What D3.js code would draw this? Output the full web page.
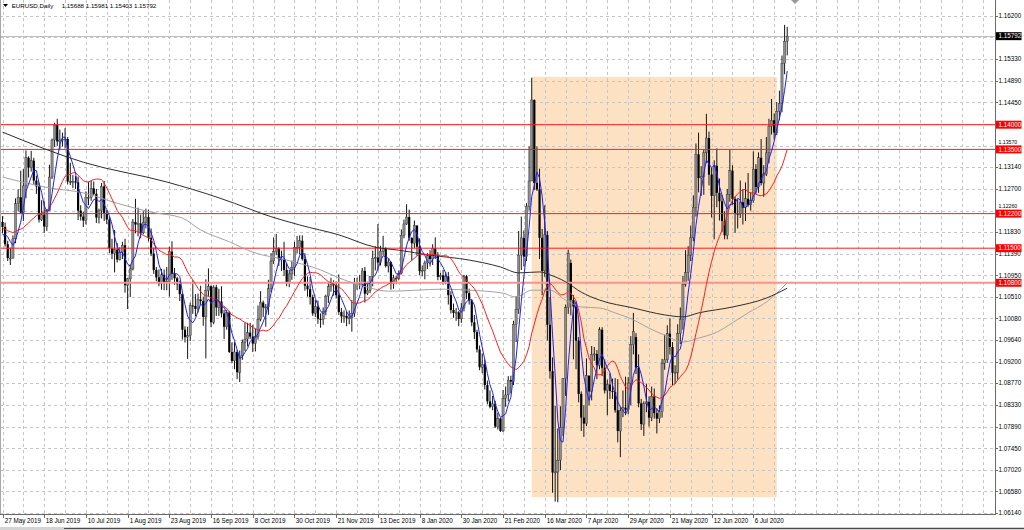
<!DOCTYPE html>
<html><head><meta charset="utf-8">
<script src="https://cdn.jsdelivr.net/npm/d3@7"></script>
<style>
html,body{margin:0;padding:0;background:#fff;}
svg{display:block;font-family:"Liberation Sans",Arial,sans-serif;}
</style></head><body>
<svg id="chart" width="1024" height="530"></svg>
<script>
// ---------------- DATA ----------------
const symbolTitle = "EURUSD,Daily";
const headerValues = ["1.15688", "1.15981", "1.15403", "1.15792"];

const opens = [
1.1203,1.1193,1.1158,1.1130,1.1130,1.1169,1.1240,1.1253,1.1222,1.1276,
1.1333,1.1313,1.1327,1.1287,1.1275,1.1208,1.1218,1.1194,1.1226,1.1294,
1.1369,1.1399,1.1366,1.1369,1.1370,1.1371,1.1285,1.1285,1.1285,1.1283,
1.1226,1.1214,1.1206,1.1253,1.1253,1.1271,1.1260,1.1212,1.1226,1.1275,
1.1220,1.1208,1.1150,1.1139,1.1147,1.1127,1.1142,1.1156,1.1075,1.1088,
1.1108,1.1203,1.1198,1.1200,1.1181,1.1202,1.1213,1.1171,1.1139,1.1106,
1.1091,1.1078,1.1096,1.1081,1.1082,1.1143,1.1098,1.1089,1.1077,1.1057,
1.0985,1.0970,1.0973,1.1034,1.1033,1.1027,1.1046,1.1043,1.1011,1.1064,
1.1073,1.1000,1.1071,1.1030,1.1042,1.1018,1.0991,1.1020,1.0940,1.0922,
1.0940,1.0899,1.0932,1.0959,1.0966,1.0979,1.0971,1.0957,1.0971,1.1006,
1.1040,1.1030,1.1031,1.1068,1.1124,1.1143,1.1150,1.1128,1.1128,1.1106,
1.1081,1.1098,1.1111,1.1152,1.1152,1.1165,1.1128,1.1074,1.1067,1.1051,
1.1018,1.1032,1.1007,1.1006,1.1022,1.1053,1.1072,1.1077,1.1075,1.1055,
1.1021,1.1012,1.1013,1.1008,1.1009,1.1018,1.1078,1.1081,1.1077,1.1104,
1.1058,1.1065,1.1093,1.1130,1.1131,1.1121,1.1144,1.1149,1.1114,1.1122,
1.1078,1.1090,1.1089,1.1099,1.1176,1.1199,1.1213,1.1171,1.1160,1.1196,
1.1153,1.1104,1.1105,1.1120,1.1135,1.1128,1.1150,1.1136,1.1092,1.1095,
1.1082,1.1093,1.1055,1.1025,1.1019,1.1020,1.1007,1.1029,1.1093,1.1059,
1.1044,1.1000,1.0980,1.0945,1.0909,1.0915,1.0873,1.0840,1.0829,1.0835,
1.0789,1.0805,1.0780,1.0846,1.0853,1.0883,1.0880,1.0996,1.1026,1.1136,
1.1171,1.1133,1.1235,1.1286,1.1450,1.1282,1.1269,1.1171,1.1104,1.1177,
1.0995,1.0901,1.0696,1.0697,1.0721,1.0787,1.0886,1.1030,1.1120,1.1045,
1.1032,1.0963,1.0855,1.0807,1.0795,1.0892,1.0860,1.0935,1.0936,1.0913,
1.0985,1.0908,1.0862,1.0874,1.0861,1.0859,1.0822,1.0780,1.0821,1.0827,
1.0823,1.0877,1.0955,1.0970,1.0908,1.0836,1.0794,1.0835,1.0839,1.0807,
1.0850,1.0816,1.0805,1.0819,1.0917,1.0924,1.0977,1.0950,1.0898,1.0899,
1.0977,1.1006,1.1077,1.1101,1.1136,1.1171,1.1233,1.1340,1.1292,1.1295,
1.1343,1.1373,1.1299,1.1256,1.1317,1.1262,1.1245,1.1205,1.1176,1.1259,
1.1307,1.1250,1.1220,1.1219,1.1243,1.1232,1.1250,1.1238,1.1246,1.1310,
1.1274,1.1333,1.1282,1.1300,1.1343,1.1397,1.1409,1.1384,1.1427,1.1443,
1.1524,1.15688];

const highs = [
1.1215,1.1202,1.1165,1.1151,1.1176,1.1251,1.1269,1.1307,1.1310,1.1348,
1.1336,1.1347,1.1333,1.1297,1.1283,1.1247,1.1245,1.1229,1.1319,1.1372,
1.1404,1.1412,1.1390,1.1384,1.1393,1.1375,1.1323,1.1298,1.1296,1.1295,
1.1237,1.1224,1.1265,1.1285,1.1287,1.1285,1.1270,1.1230,1.1282,1.1286,
1.1227,1.1214,1.1169,1.1187,1.1160,1.1152,1.1163,1.1169,1.1090,1.1117,
1.1209,1.1250,1.1232,1.1218,1.1225,1.1230,1.1228,1.1190,1.1151,1.1112,
1.1107,1.1108,1.1107,1.1112,1.1153,1.1164,1.1110,1.1092,1.1084,1.1059,
1.0992,1.0991,1.1040,1.1085,1.1057,1.1058,1.1074,1.1052,1.1087,1.1109,
1.1075,1.1075,1.1076,1.1068,1.1073,1.1025,1.1025,1.1023,1.0959,1.0960,
1.0944,1.0943,1.0965,1.0999,1.0999,1.0999,1.0995,1.0987,1.1034,1.1063,
1.1044,1.1037,1.1086,1.1140,1.1172,1.1179,1.1152,1.1145,1.1163,1.1120,
1.1106,1.1125,1.1163,1.1175,1.1176,1.1176,1.1140,1.1093,1.1092,1.1056,
1.1045,1.1044,1.1018,1.1030,1.1056,1.1081,1.1090,1.1085,1.1083,1.1097,
1.1029,1.1024,1.1022,1.1024,1.1045,1.1090,1.1090,1.1096,1.1110,1.1112,
1.1082,1.1093,1.1145,1.1154,1.1199,1.1155,1.1175,1.1152,1.1129,1.1123,
1.1096,1.1094,1.1105,1.1188,1.1208,1.1239,1.1228,1.1172,1.1206,1.1196,
1.1170,1.1115,1.1125,1.1140,1.1146,1.1158,1.1172,1.1142,1.1100,1.1106,
1.1102,1.1102,1.1063,1.1038,1.1029,1.1023,1.1039,1.1096,1.1096,1.1068,
1.1047,1.1015,1.0985,1.0953,1.0937,1.0925,1.0882,1.0862,1.0851,1.0841,
1.0817,1.0807,1.0863,1.0870,1.0891,1.0892,1.1003,1.1053,1.1185,1.1214,
1.1186,1.1241,1.1356,1.1495,1.1451,1.1356,1.1311,1.1189,1.1237,1.1185,
1.1051,1.0929,1.0831,1.0785,1.0830,1.0887,1.1036,1.1147,1.1127,1.1055,
1.1035,1.0970,1.0860,1.0832,1.0927,1.0892,1.0952,1.0950,1.0944,1.0990,
1.0990,1.0925,1.0884,1.0897,1.0886,1.0887,1.0885,1.0829,1.0862,1.0890,
1.0889,1.0972,1.1019,1.0978,1.0935,1.0845,1.0840,1.0876,1.0850,1.0870,
1.0866,1.0826,1.0832,1.0926,1.0975,1.0994,1.1008,1.0960,1.0913,1.0996,
1.1030,1.1094,1.1146,1.1154,1.1196,1.1257,1.1362,1.1384,1.1316,1.1350,
1.1422,1.1386,1.1313,1.1328,1.1352,1.1291,1.1258,1.1225,1.1270,1.1349,
1.1318,1.1255,1.1249,1.1287,1.1269,1.1283,1.1302,1.1263,1.1346,1.1320,
1.1344,1.1371,1.1318,1.1375,1.1412,1.1452,1.1423,1.1446,1.1469,1.1540,
1.1602,1.15981];

const lows = [
1.1180,1.1153,1.1124,1.1116,1.1129,1.1160,1.1225,1.1220,1.1205,1.1251,
1.1293,1.1305,1.1278,1.1260,1.1202,1.1205,1.1181,1.1185,1.1225,1.1290,
1.1355,1.1357,1.1350,1.1356,1.1352,1.1279,1.1278,1.1272,1.1270,1.1207,
1.1206,1.1193,1.1198,1.1237,1.1246,1.1257,1.1201,1.1200,1.1210,1.1205,
1.1199,1.1140,1.1128,1.1101,1.1121,1.1125,1.1128,1.1060,1.1027,1.1051,
1.1105,1.1180,1.1174,1.1170,1.1178,1.1190,1.1164,1.1134,1.1098,1.1083,
1.1073,1.1066,1.1065,1.1065,1.1052,1.1086,1.1076,1.1065,1.1043,1.0965,
1.0959,1.0926,1.0962,1.1017,1.1012,1.1020,1.1035,1.0993,1.0927,1.1052,
1.0990,1.0996,1.1013,1.1013,1.1010,1.0966,1.0985,1.0938,1.0917,1.0905,
1.0885,1.0879,1.0924,1.0942,1.0951,1.0966,1.0940,1.0941,1.0965,1.1002,
1.1011,1.0991,1.1015,1.1061,1.1118,1.1136,1.1114,1.1104,1.1094,1.1073,
1.1071,1.1086,1.1094,1.1139,1.1137,1.1125,1.1064,1.1052,1.1036,1.1013,
1.1011,1.0997,1.0989,1.0995,1.1014,1.1039,1.1062,1.1054,1.1048,1.1015,
1.0999,1.0999,1.0992,1.0996,1.0981,1.1011,1.1066,1.1067,1.1072,1.1040,
1.1055,1.1059,1.1073,1.1105,1.1105,1.1115,1.1136,1.1111,1.1101,1.1066,
1.1068,1.1077,1.1085,1.1097,1.1170,1.1197,1.1165,1.1125,1.1150,1.1135,
1.1095,1.1093,1.1087,1.1108,1.1113,1.1116,1.1128,1.1085,1.1086,1.1076,
1.1077,1.1036,1.1018,1.1009,1.1003,1.0992,1.0999,1.1022,1.1047,1.1036,
1.0992,1.0966,1.0939,1.0903,1.0897,1.0864,1.0834,1.0826,1.0822,1.0786,
1.0783,1.0778,1.0778,1.0829,1.0840,1.0856,1.0873,1.0960,1.1017,1.1106,
1.1113,1.1124,1.1226,1.1286,1.1268,1.1266,1.1128,1.1055,1.1092,1.0963,
1.0886,1.0655,1.0637,1.0636,1.0701,1.0770,1.0851,1.1017,1.1014,1.0925,
1.0905,1.0838,1.0780,1.0768,1.0790,1.0832,1.0842,1.0922,1.0885,1.0905,
1.0891,1.0856,1.0812,1.0845,1.0845,1.0817,1.0757,1.0727,1.0808,1.0812,
1.0814,1.0832,1.0935,1.0895,1.0828,1.0782,1.0770,1.0818,1.0789,1.0800,
1.0805,1.0775,1.0796,1.0807,1.0904,1.0918,1.0935,1.0873,1.0875,1.0884,
1.0956,1.0985,1.1072,1.1084,1.1124,1.1164,1.1214,1.1263,1.1256,1.1258,
1.1322,1.1277,1.1212,1.1168,1.1233,1.1206,1.1183,1.1168,1.1168,1.1244,
1.1238,1.1181,1.1190,1.1211,1.1198,1.1205,1.1234,1.1226,1.1242,1.1260,
1.1262,1.1277,1.1254,1.1296,1.1322,1.1380,1.1370,1.1379,1.1409,1.1425,
1.1502,1.15403];

const closes = [
1.1193,1.1158,1.1130,1.1130,1.1169,1.1240,1.1253,1.1222,1.1276,1.1333,
1.1313,1.1327,1.1287,1.1275,1.1208,1.1218,1.1194,1.1226,1.1294,1.1369,
1.1399,1.1366,1.1369,1.1370,1.1371,1.1285,1.1285,1.1285,1.1283,1.1226,
1.1214,1.1206,1.1253,1.1253,1.1271,1.1260,1.1212,1.1226,1.1275,1.1220,
1.1208,1.1150,1.1139,1.1147,1.1127,1.1142,1.1156,1.1075,1.1088,1.1108,
1.1203,1.1198,1.1200,1.1181,1.1202,1.1213,1.1171,1.1139,1.1106,1.1091,
1.1078,1.1096,1.1081,1.1082,1.1143,1.1098,1.1089,1.1077,1.1057,1.0985,
1.0970,1.0973,1.1034,1.1033,1.1027,1.1046,1.1043,1.1011,1.1064,1.1073,
1.1000,1.1071,1.1030,1.1042,1.1018,1.0991,1.1020,1.0940,1.0922,1.0940,
1.0899,1.0932,1.0959,1.0966,1.0979,1.0971,1.0957,1.0971,1.1006,1.1040,
1.1030,1.1031,1.1068,1.1124,1.1143,1.1150,1.1128,1.1128,1.1106,1.1081,
1.1098,1.1111,1.1152,1.1152,1.1165,1.1128,1.1074,1.1067,1.1051,1.1018,
1.1032,1.1007,1.1006,1.1022,1.1053,1.1072,1.1077,1.1075,1.1055,1.1021,
1.1012,1.1013,1.1008,1.1009,1.1018,1.1078,1.1081,1.1077,1.1104,1.1058,
1.1065,1.1093,1.1130,1.1131,1.1121,1.1144,1.1149,1.1114,1.1122,1.1078,
1.1090,1.1089,1.1099,1.1176,1.1199,1.1213,1.1171,1.1160,1.1196,1.1153,
1.1104,1.1105,1.1120,1.1135,1.1128,1.1150,1.1136,1.1092,1.1095,1.1082,
1.1093,1.1055,1.1025,1.1019,1.1020,1.1007,1.1029,1.1093,1.1059,1.1044,
1.1000,1.0980,1.0945,1.0909,1.0915,1.0873,1.0840,1.0829,1.0835,1.0789,
1.0805,1.0780,1.0846,1.0853,1.0883,1.0880,1.0996,1.1026,1.1136,1.1171,
1.1133,1.1235,1.1286,1.1450,1.1282,1.1269,1.1171,1.1104,1.1177,1.0995,
1.0901,1.0696,1.0697,1.0721,1.0787,1.0886,1.1030,1.1140,1.1045,1.1032,
1.0963,1.0855,1.0807,1.0795,1.0892,1.0860,1.0935,1.0936,1.0913,1.0985,
1.0908,1.0862,1.0874,1.0861,1.0859,1.0822,1.0780,1.0821,1.0827,1.0823,
1.0877,1.0955,1.0982,1.0908,1.0836,1.0794,1.0835,1.0839,1.0807,1.0850,
1.0816,1.0805,1.0819,1.0917,1.0924,1.0977,1.0950,1.0898,1.0899,1.0977,
1.1006,1.1077,1.1101,1.1136,1.1171,1.1233,1.1340,1.1292,1.1295,1.1343,
1.1373,1.1299,1.1256,1.1317,1.1262,1.1245,1.1205,1.1176,1.1259,1.1307,
1.1250,1.1220,1.1219,1.1243,1.1232,1.1250,1.1238,1.1246,1.1310,1.1274,
1.1333,1.1282,1.1300,1.1343,1.1397,1.1409,1.1384,1.1427,1.1443,1.1524,
1.1569,1.15792];

// closes before the first visible bar (feed the start of the 5/20 moving averages)
const priorCloses = [1.1215,1.1195,1.1172,1.1201,1.1197,1.1190,1.1192,1.1215,1.1234,1.1225,
                     1.1207,1.1203,1.1174,1.1157,1.1164,1.1160,1.1150,1.1180,1.1205];

// long moving averages (bar index -> value)
const sma100Bars   = [0,18,31,44,57,69,76,87,96,109,122,129,140,148,169,179,192,197,203,210,216,222,229,235,242,248,254,261,267,274,280,286,293,301];
const sma100Values = [1.1294,1.1272,1.1262,1.1241,1.1223,1.1211,1.1187,1.1163,1.1142,1.1126,1.1106,1.1090,1.1071,1.1063,1.1067,1.1065,1.1059,1.1051,1.1065,1.1065,1.1045,1.1031,1.1029,1.1019,1.1005,1.0988,1.0974,1.0960,1.0968,1.0980,1.0999,1.1019,1.1041,1.1080];
const sma200Bars   = [0,31,63,83,95,99,114,129,143,152,164,179,191,198,206,210,216,222,229,242,254,261,267,280,293,301];
const sma200Values = [1.1385,1.1324,1.1284,1.1252,1.1229,1.1221,1.1197,1.1177,1.1152,1.1146,1.1136,1.1126,1.1112,1.1100,1.1102,1.1096,1.1082,1.1061,1.1045,1.1029,1.1015,1.1011,1.1019,1.1031,1.1049,1.1069];

const dateLabels = ["27 May 2019","18 Jun 2019","10 Jul 2019","1 Aug 2019","23 Aug 2019","16 Sep 2019",
  "8 Oct 2019","30 Oct 2019","21 Nov 2019","13 Dec 2019","8 Jan 2020","30 Jan 2020","21 Feb 2020",
  "16 Mar 2020","7 Apr 2020","29 Apr 2020","21 May 2020","12 Jun 2020","6 Jul 2020"];
const dateLabelBars = [0,16,32,48,64,80,96,112,128,144,160,176,192,208,224,240,256,272,288];

const priceTicks = [1.16200,1.15770,1.15330,1.14890,1.14450,1.14010,1.13570,1.13140,1.12700,1.12260,
  1.11830,1.11390,1.10950,1.10510,1.10080,1.09640,1.09200,1.08770,1.08330,1.07890,1.07450,1.07020,1.06580,1.06140];

const levelPrices = [1.14000,1.13500,1.12200,1.11500,1.10800];
const levelLabels = ["1.14000","1.13500","1.12200","1.11500","1.10800"];

const zoneBars = [203,297];
const zonePrices = [1.1497,1.0646];

const lastPrice = 1.15792;
const lastPriceLabel = "1.15792";

// ---------------- LAYOUT ----------------
const plotRight = 995, plotBottom = 514;
const barStep = 2.607, firstBarX = 2.5;
const svg = d3.select("#chart");
const x = d3.scaleLinear().domain([0, closes.length - 1])
  .range([firstBarX, firstBarX + (closes.length - 1) * barStep]);
const y = d3.scaleLinear().domain([1.0614, 1.162]).range([513, 16]);
const fs = 6.3;
const boxH = 8;

svg.append("rect").attr("width",1024).attr("height",530).attr("fill","#fff");
const defs = svg.append("defs");
defs.append("clipPath").attr("id","plotclip").append("rect")
  .attr("x",0).attr("y",0).attr("width",plotRight).attr("height",plotBottom);
const plot = svg.append("g").attr("clip-path","url(#plotclip)");

// zone rectangle
plot.append("rect")
  .attr("x", x(zoneBars[0])).attr("y", y(zonePrices[0]))
  .attr("width", x(zoneBars[1]) - x(zoneBars[0]))
  .attr("height", y(zonePrices[1]) - y(zonePrices[0]))
  .attr("fill", "#fde1c3");

// grid
const gridG = plot.append("g").attr("stroke","#c6c6c6").attr("stroke-dasharray","3,3").attr("shape-rendering","crispEdges");
priceTicks.forEach(p => {
  const yy = Math.round(y(p)) + 0.5;
  gridG.append("line").attr("x1",0).attr("x2",plotRight).attr("y1",yy).attr("y2",yy);
});
const gridBars = d3.range(0, Math.ceil(x.invert(plotRight)) + 1, 8);
gridBars.forEach(b => {
  const xx = Math.round(x(b)) + 0.5;
  gridG.append("line").attr("x1",xx).attr("x2",xx).attr("y1",0).attr("y2",plotBottom);
});

// current price line
plot.append("line").attr("x1",0).attr("x2",plotRight)
  .attr("y1",Math.round(y(lastPrice))+0.5).attr("y2",Math.round(y(lastPrice))+0.5)
  .attr("stroke","#bdbdbd").attr("shape-rendering","crispEdges");

// candles
const candles = plot.append("g");
closes.forEach((c, i) => {
  const o = opens[i], h = highs[i], l = lows[i];
  const cx = x(i);
  const bull = c >= o;
  candles.append("line").attr("x1",cx).attr("x2",cx)
    .attr("y1",y(h)).attr("y2",y(l)).attr("stroke","#141414").attr("stroke-width",1);
  const top = y(Math.max(o,c)), bot = y(Math.min(o,c));
  candles.append("rect").attr("x",cx-1.1).attr("width",2.2)
    .attr("y",top).attr("height",Math.max(1,bot-top))
    .attr("fill", bull ? "#8e8e8e" : "#000")
    .attr("stroke", bull ? "#2a2a2a" : "none").attr("stroke-width", 0.4);
});

// level lines
levelPrices.forEach((p, i) => {
  const last = i === levelPrices.length - 1;
  plot.append("line").attr("x1",0).attr("x2",plotRight)
    .attr("y1",y(p)).attr("y2",y(p))
    .attr("stroke", last ? "#f69494" : "#ff1a1a")
    .attr("stroke-width", last ? 2 : 1);
});

// moving averages
const P = priorCloses.length;
const allCloses = priorCloses.concat(closes);
const sma = n => closes.map((c, i) => d3.mean(allCloses.slice(i + P - n + 1, i + P + 1)));
const lineIdx = d3.line().x((d,i) => x(i)).y(d => y(d));
const lineSampled = (bars) => d3.line().curve(d3.curveMonotoneX).x((d,i) => x(bars[i])).y(d => y(d));

plot.append("path").attr("d", lineSampled(sma100Bars)(sma100Values))
  .attr("fill","none").attr("stroke","#a3a3a3").attr("stroke-width",1);
plot.append("path").attr("d", lineSampled(sma200Bars)(sma200Values))
  .attr("fill","none").attr("stroke","#2e2e2e").attr("stroke-width",1);
plot.append("path").attr("d", lineIdx(sma(20)))
  .attr("fill","none").attr("stroke","#ff2020").attr("stroke-width",1);
plot.append("path").attr("d", lineIdx(sma(5)))
  .attr("fill","none").attr("stroke","#1f1fff").attr("stroke-width",1);

// frame / axes
svg.append("line").attr("x1",0.5).attr("x2",0.5).attr("y1",0).attr("y2",plotBottom)
  .attr("stroke","#a8a8a8").attr("shape-rendering","crispEdges");
svg.append("line").attr("x1",plotRight+0.5).attr("x2",plotRight+0.5).attr("y1",0).attr("y2",plotBottom+1)
  .attr("stroke","#6a6a6a").attr("shape-rendering","crispEdges");
svg.append("line").attr("x1",0).attr("x2",plotRight+1).attr("y1",plotBottom+0.5).attr("y2",plotBottom+0.5)
  .attr("stroke","#6a6a6a").attr("shape-rendering","crispEdges");
svg.append("rect").attr("x",0).attr("y",527).attr("width",64).attr("height",3).attr("fill","#d4d4d4");
svg.append("line").attr("x1",64).attr("x2",1024).attr("y1",528.5).attr("y2",528.5)
  .attr("stroke","#4a4a4a").attr("stroke-width",1.5);

// price axis labels; a tick label that would sit mostly under a level / price box
// is shrunk and lifted so it peeks out just above that box (as in the reference)
const boxCenters = levelPrices.map(p => y(p)).concat([y(lastPrice)]);
const axisG = svg.append("g").attr("font-size",fs).attr("fill","#000");
priceTicks.forEach(p => {
  const yy = Math.round(y(p)) + 0.5;
  svg.append("line").attr("x1",plotRight).attr("x2",plotRight+3).attr("y1",yy).attr("y2",yy)
    .attr("stroke","#6a6a6a").attr("shape-rendering","crispEdges");
  const ty = y(p);
  const near = boxCenters.find(c => Math.abs(c - ty) < 5);
  if (near !== undefined && Math.abs(near - ty) < 1.5) return; // fully hidden under a box
  if (near !== undefined && near > ty) {
    axisG.append("text").attr("x",998.5).attr("y",near - 5.2).attr("font-size",5.2).text(p.toFixed(5));
  } else if (near !== undefined) {
    axisG.append("text").attr("x",998.5).attr("y",near + 10.2).attr("font-size",fs).text(p.toFixed(5));
  } else {
    axisG.append("text").attr("x",998.5).attr("y",ty+2.3).text(p.toFixed(5));
  }
});

// level labels
levelPrices.forEach((p, i) => {
  svg.append("rect").attr("x",plotRight+1).attr("y",y(p)-boxH/2).attr("width",25.5).attr("height",boxH).attr("fill","#ff0000");
  svg.append("text").attr("x",998.5).attr("y",y(p)+2.3).attr("font-size",fs).attr("fill","#fff").text(levelLabels[i]);
});
// last price label
svg.append("rect").attr("x",plotRight+1).attr("y",y(lastPrice)-boxH/2).attr("width",25.5).attr("height",boxH).attr("fill","#000");
svg.append("text").attr("x",998.5).attr("y",y(lastPrice)+2.3).attr("font-size",fs).attr("fill","#fff").text(lastPriceLabel);

// date labels
dateLabelBars.forEach((b, i) => {
  const xx = Math.round(x(b)) + 0.5;
  svg.append("line").attr("x1",xx).attr("x2",xx).attr("y1",plotBottom).attr("y2",plotBottom+4)
    .attr("stroke","#6a6a6a").attr("shape-rendering","crispEdges");
  svg.append("text").attr("x",xx+1.2).attr("y",523.3).attr("font-size",fs).attr("fill","#000").text(dateLabels[i]);
});

// title
svg.append("path").attr("d","M3,4 L8,4 L5.5,7 Z").attr("fill","#000");
svg.append("text").attr("x",11.7).attr("y",8.2).attr("font-size",6.2).attr("fill","#000").text(symbolTitle);
svg.append("text").attr("x",61.7).attr("y",8.2).attr("font-size",6.2).attr("fill","#000").text(headerValues.join(" "));

// chart shift marker
svg.append("path").attr("d","M791,0 L799,0 L795,4 Z").attr("fill","#9a9a9a");
</script>
</body></html>
